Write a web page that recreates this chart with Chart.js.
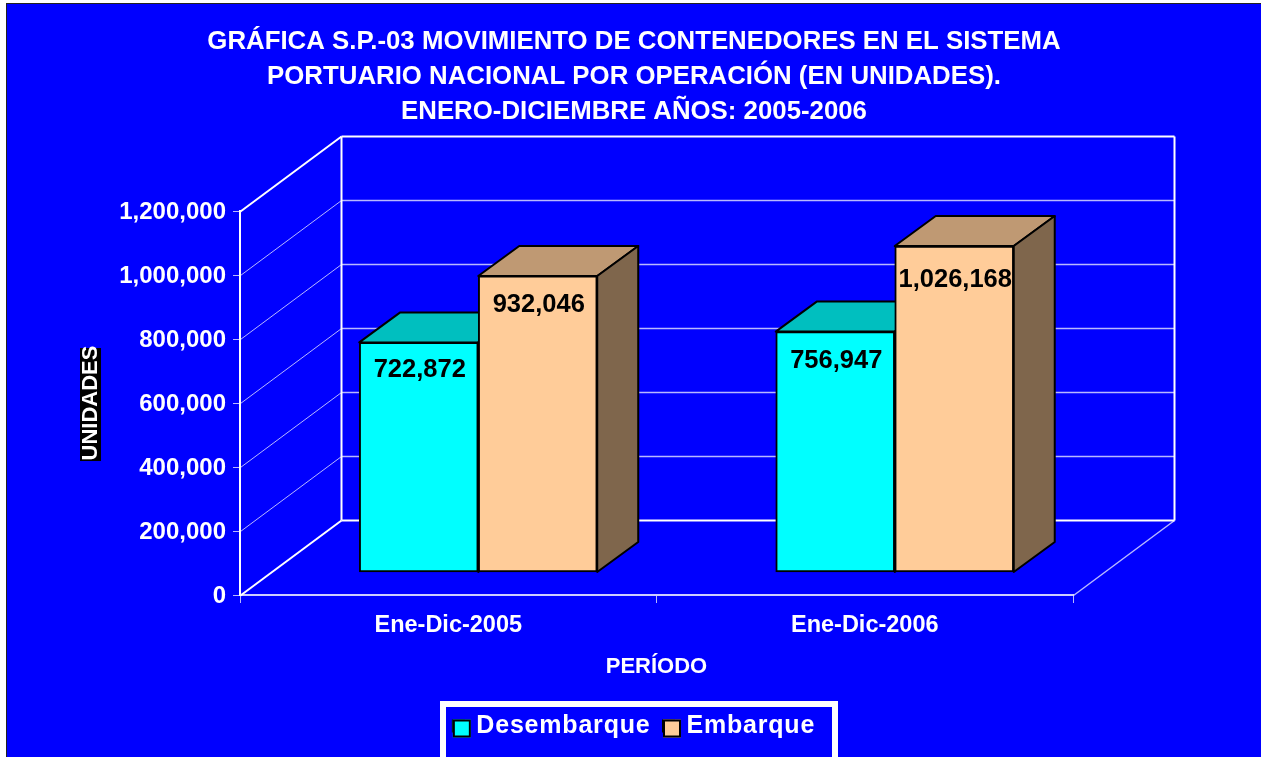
<!DOCTYPE html>
<html>
<head>
<meta charset="utf-8">
<script src="https://cdn.jsdelivr.net/npm/chart.js@4"></script>
<style>
    html, body { margin: 0; padding: 0; background: #fff; overflow: hidden; }
    #frame { position: absolute; left: 6px; top: 3px; border-left: 1px solid #222; border-top: 1px solid #222; }
    #chart { display: block; background: #0000ff; }
</style>
</head>
<body>
<div id="frame"><canvas id="chart" width="1254" height="753"></canvas></div>
<script>
const categories = ["Ene-Dic-2005", "Ene-Dic-2006"];
const desembarque = [722872, 756947];
const embarque = [932046, 1026168];
const titleLines = [
    "GRÁFICA S.P.-03 MOVIMIENTO DE CONTENEDORES EN EL SISTEMA",
    "PORTUARIO NACIONAL POR OPERACIÓN (EN UNIDADES).",
    "ENERO-DICIEMBRE AÑOS: 2005-2006"
];

const FONT = "'Liberation Sans', Arial, sans-serif";
const WALL_DX = 101;
const WALL_DY = -75;
const BAR_DX = 41;
const BAR_DY = -30;
const BAR_SHIFT = 0.072;
const LEGEND_SPACING = "0.8px";
// how far each value label sits below its bar top, per series
const LABEL_DROP = [[28, 29], [29, 34]];

function toPoints(dataArr) {
    return dataArr.map((v, i) => ({ x: i, y: v }));
}

function line(ctx, x1, y1, x2, y2, width, color) {
    ctx.lineWidth = width;
    ctx.strokeStyle = color;
    ctx.beginPath();
    ctx.moveTo(x1, y1);
    ctx.lineTo(x2, y2);
    ctx.stroke();
}

function face(ctx, pts, fill) {
    ctx.fillStyle = fill;
    ctx.strokeStyle = "#000";
    ctx.lineWidth = 2;
    ctx.lineJoin = "round";
    ctx.beginPath();
    pts.forEach((p, i) => i ? ctx.lineTo(p[0], p[1]) : ctx.moveTo(p[0], p[1]));
    ctx.closePath();
    ctx.fill();
    ctx.stroke();
}

const scene3d = {
    id: "scene3d",
    beforeLayout(chart) {
        // legend measures its text with the same spacing it draws with
        chart.ctx.letterSpacing = LEGEND_SPACING;
    },
    afterLayout(chart) {
        chart.ctx.letterSpacing = "0px";
        // the legend has wider letters and bigger boxes than Chart.js gives
        const legend = chart.legend;
        if (legend.spaced) return;
        legend.spaced = true;
        const draw = legend.draw.bind(legend);
        legend.draw = function () {
            const ctx = chart.ctx;
            ctx.save();
            ctx.translate(0, -8.5);
            ctx.letterSpacing = LEGEND_SPACING;
            draw();
            ctx.letterSpacing = "0px";
            legend.legendHitBoxes.forEach((box, i) => {
                const ds = chart.data.datasets[i];
                ctx.fillStyle = ds.backgroundColor;
                ctx.strokeStyle = "#000";
                ctx.lineWidth = 2;
                ctx.fillRect(box.left, box.top + box.height / 2 - 6.5, 18, 18);
                ctx.strokeRect(box.left + 1, box.top + box.height / 2 - 5.5, 16, 16);
            });
            ctx.restore();
        };
    },
    beforeDraw(chart) {
        const ctx = chart.ctx;
        const mid = (chart.chartArea.top + chart.chartArea.bottom) / 2;
        ctx.save();
        // black strip behind the rotated axis title
        ctx.fillStyle = "#000";
        ctx.fillRect(73, mid - 55, 21, 113);
        ctx.restore();
    },
    beforeDatasetsDraw(chart) {
        const ctx = chart.ctx;
        const area = chart.chartArea;
        const y = chart.scales.y;
        const soft = "rgba(255,255,255,0.72)";
        const left = area.left + 0.5;
        const right = area.right + 0.5;
        const top = area.top + 0.5;
        const bottom = area.bottom + 0.5;
        ctx.save();
        // grid on the back wall and the left wall
        y.ticks.forEach(t => {
            const py = y.getPixelForValue(t.value) + 0.5;
            if (t.value > 0 && t.value < 1200000) {
                line(ctx, left, py, left + WALL_DX, py + WALL_DY, 1, soft);
                line(ctx, left + WALL_DX, py + WALL_DY, right + WALL_DX, py + WALL_DY, 1.5, soft);
            }
        });
        line(ctx, left, top, left + WALL_DX, top + WALL_DY, 2, "#fff");
        line(ctx, left, bottom, left + WALL_DX, bottom + WALL_DY, 2, "#fff");
        line(ctx, left + WALL_DX, top + WALL_DY, right + WALL_DX, top + WALL_DY, 2, "#fff");
        line(ctx, left + WALL_DX, bottom + WALL_DY, right + WALL_DX, bottom + WALL_DY, 2, "#fff");
        line(ctx, left + WALL_DX, top + WALL_DY, left + WALL_DX, bottom + WALL_DY, 2, "#fff");
        line(ctx, right + WALL_DX, top + WALL_DY, right + WALL_DX, bottom + WALL_DY, 2, "#fff");
        line(ctx, right, bottom, right + WALL_DX, bottom + WALL_DY, 1.5, soft);

        // top and side faces of the bars
        chart.data.datasets.forEach((ds, i) => {
            chart.getDatasetMeta(i).data.forEach(bar => {
                const l = bar.x - bar.width / 2;
                const r = bar.x + bar.width / 2;
                face(ctx, [[l, bar.y], [r, bar.y], [r + BAR_DX, bar.y + BAR_DY], [l + BAR_DX, bar.y + BAR_DY]], ds.topColor);
                face(ctx, [[r, bar.y], [r + BAR_DX, bar.y + BAR_DY], [r + BAR_DX, bar.base + BAR_DY], [r, bar.base]], ds.sideColor);
            });
        });
        ctx.restore();
    },
    afterDatasetsDraw(chart) {
        const ctx = chart.ctx;
        ctx.save();
        ctx.font = "bold 25.5px " + FONT;
        ctx.fillStyle = "#000";
        ctx.textAlign = "center";
        ctx.textBaseline = "middle";
        chart.data.datasets.forEach((ds, i) => {
            chart.getDatasetMeta(i).data.forEach((bar, j) => {
                ctx.fillText(ds.data[j].y.toLocaleString("en-US"), bar.x + 1, bar.y + LABEL_DROP[j][i]);
            });
        });
        // legend frame, open at the bottom edge of the picture
        ctx.strokeStyle = "#fff";
        ctx.lineWidth = 6;
        ctx.strokeRect(436, 700, 392, 80);
        ctx.restore();
    }
};

const chart = new Chart(document.getElementById("chart"), {
    type: "bar",
    plugins: [scene3d],
    data: {
        labels: categories,
        datasets: [
            {
                label: "Desembarque",
                data: toPoints(desembarque),
                backgroundColor: "#00ffff",
                topColor: "#00bfbf",
                sideColor: "#007f7f",
                borderColor: "#000",
                borderWidth: 2,
                borderSkipped: false,
                barThickness: 119,
                xAxisID: "xBars",
                yAxisID: "yBars"
            },
            {
                label: "Embarque",
                data: toPoints(embarque),
                backgroundColor: "#ffcc99",
                topColor: "#bf9973",
                sideColor: "#7f664c",
                borderColor: "#000",
                borderWidth: 2,
                borderSkipped: false,
                barThickness: 119,
                xAxisID: "xBars",
                yAxisID: "yBars"
            }
        ]
    },
    options: {
        responsive: false,
        animation: false,
        layout: { padding: 0 },
        plugins: {
            tooltip: { enabled: false },
            title: {
                display: true,
                text: titleLines,
                color: "#fff",
                font: { family: FONT, size: 25.8, weight: "bold", lineHeight: 1.357 },
                padding: { top: 20, bottom: 82 }
            },
            legend: {
                position: "bottom",
                labels: {
                    color: "#fff",
                    font: { family: FONT, size: 25, weight: "bold" },
                    boxWidth: 11,
                    boxHeight: 11,
                    padding: 12.5
                }
            }
        },
        scales: {
            x: {
                type: "category",
                labels: categories,
                offset: true,
                grid: { offset: true, drawOnChartArea: false, color: "#fff", tickColor: "rgba(255,255,255,0.72)", tickLength: 8 },
                border: { color: "rgba(255,255,255,0.8)", width: 2 },
                ticks: { color: "#fff", padding: 8, maxRotation: 0, autoSkip: false, font: { family: FONT, size: 23.5, weight: "bold" } },
                title: { display: true, text: "PERÍODO", color: "#fff", padding: { top: 0, bottom: 29.5 }, font: { family: FONT, size: 22, weight: "bold" } },
                afterFit(scale) { scale.height = 114.5; }
            },
            y: {
                min: 0,
                max: 1200000,
                grid: { drawOnChartArea: false, tickColor: "rgba(255,255,255,0.72)", tickLength: 7 },
                border: { color: "#fff", width: 2 },
                ticks: {
                    color: "#fff",
                    padding: 7,
                    labelOffset: 1.5,
                    stepSize: 200000,
                    font: { family: FONT, size: 24, weight: "bold" },
                    callback: v => v.toLocaleString("en-US")
                },
                title: { display: true, text: "UNIDADES", color: "#fff", padding: { top: 71, bottom: 0 }, font: { family: FONT, size: 22, weight: "bold" } },
                afterFit(scale) { scale.width = 233; }
            },
            xBars: { type: "linear", display: false, offset: false, min: -0.5 - BAR_SHIFT, max: 1.5 - BAR_SHIFT },
            // bars stand further into the floor than the axis, and also hold the empty space on the right
            yBars: {
                type: "linear",
                position: "right",
                min: -72404,
                max: 1136428,
                grid: { display: false },
                border: { display: false },
                ticks: { display: false },
                afterFit(scale) { scale.width = 188; }
            }
        }
    }
});
</script>
</body>
</html>
